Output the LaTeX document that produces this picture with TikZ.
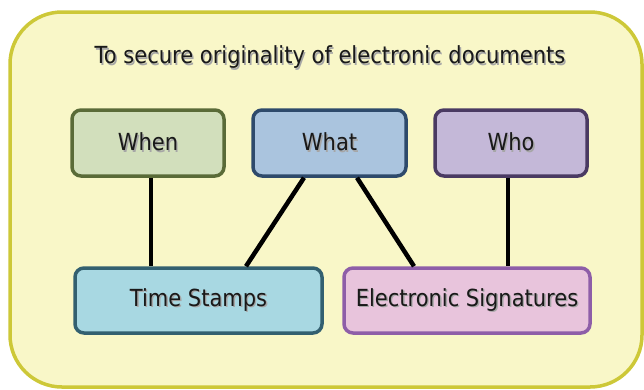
\documentclass[tikz,border=0pt]{standalone}
\usepackage{fontspec}
\usepackage{graphicx}
\setmainfont{DejaVu Sans}
\newcommand\shtext[1]{\scalebox{1}[1.12]{\rlap{\hspace{1.4pt}\raisebox{-1.4pt}{\textcolor{black!35}{#1}}}\textcolor{black!90}{#1}}}
\definecolor{bgfill}{HTML}{F9F7C8}
\definecolor{bgline}{HTML}{CDC838}
\definecolor{whenf}{HTML}{D2DFBC}\definecolor{whend}{HTML}{5A6B38}
\definecolor{whatf}{HTML}{AAC4DE}\definecolor{whatd}{HTML}{2E4A6B}
\definecolor{whof}{HTML}{C4B8D8}\definecolor{whod}{HTML}{4A3A62}
\definecolor{tsf}{HTML}{A8D8E2}\definecolor{tsd}{HTML}{336070}
\definecolor{esf}{HTML}{E8C4DC}\definecolor{esd}{HTML}{8E5EA8}
\tikzset{
  box/.style={draw, line width=3.5pt, rounded corners=9pt, inner sep=0pt, font=\fontsize{21}{24}\selectfont},
  link/.style={line width=4.5pt, black},
}
\begin{document}
\begin{tikzpicture}[x=1pt,y=-1pt]
\useasboundingbox (0,0) rectangle (644,389);
\draw[line width=3.5pt, draw=bgline, fill=bgfill, rounded corners=52pt] (10,12) rectangle (642,387);
\node[font=\fontsize{21}{24}\selectfont] (title) at (330,58) {\shtext{To secure originality of electronic documents}};
\node[box, draw=whend, fill=whenf, minimum width=152pt, minimum height=66pt] (when) at (148,143) {\shtext{When}};
\node[box, draw=whatd, fill=whatf, minimum width=153pt, minimum height=66pt] (what) at (329.5,143) {\shtext{What}};
\node[box, draw=whod, fill=whof, minimum width=152pt, minimum height=66pt] (who) at (511,143) {\shtext{Who}};
\node[box, draw=tsd, fill=tsf, minimum width=247pt, minimum height=65pt] (ts) at (198.5,300.5) {\shtext{Time Stamps}};
\node[box, draw=esd, fill=esf, minimum width=246pt, minimum height=65pt] (es) at (467,300.5) {\shtext{Electronic Signatures}};
\draw[link] ([xshift=3pt]when.south) -- ([xshift=-47.5pt]ts.north);
\draw[link] ([xshift=-25.5pt]what.south) -- ([xshift=47.5pt]ts.north);
\draw[link] ([xshift=27.5pt]what.south) -- ([xshift=-53pt]es.north);
\draw[link] ([xshift=-3pt]who.south) -- ([xshift=41pt]es.north);
\end{tikzpicture}
\end{document}
